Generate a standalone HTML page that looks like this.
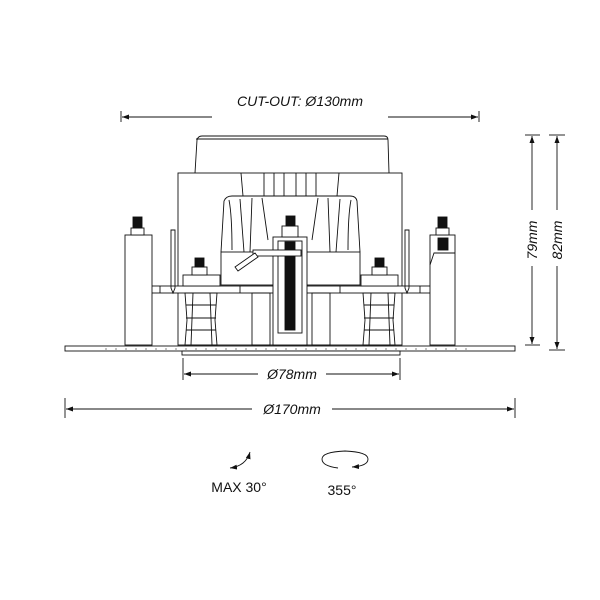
<!DOCTYPE html>
<html><head><meta charset="utf-8"><style>body{margin:0;background:#fff}svg{display:block}text{font-family:"Liberation Sans",sans-serif;fill:#111}</style></head>
<body>
<svg width="600" height="600" viewBox="0 0 600 600" xmlns="http://www.w3.org/2000/svg">
<defs>
<marker id="a" markerWidth="7" markerHeight="5" refX="7" refY="2.5" orient="auto" markerUnits="userSpaceOnUse"><path d="M0,0 L7,2.5 L0,5 Z" fill="#111"/></marker>
<marker id="b" markerWidth="7" markerHeight="5" refX="0" refY="2.5" orient="auto" markerUnits="userSpaceOnUse"><path d="M7,0 L0,2.5 L7,5 Z" fill="#111"/></marker>
</defs>
<g stroke="#111" stroke-width="0.9" fill="none">
<line x1="122" y1="117" x2="212" y2="117" marker-start="url(#b)"/>
<line x1="388" y1="117" x2="478" y2="117" marker-end="url(#a)"/>
<line x1="121" y1="111" x2="121" y2="122"/><line x1="479" y1="111" x2="479" y2="122"/>
<line x1="183" y1="358" x2="183" y2="380"/><line x1="400" y1="358" x2="400" y2="380"/>
<line x1="184" y1="374" x2="258" y2="374" marker-start="url(#b)"/>
<line x1="326" y1="374" x2="399" y2="374" marker-end="url(#a)"/>
<line x1="65" y1="398" x2="65" y2="418"/><line x1="515" y1="398" x2="515" y2="418"/>
<line x1="66" y1="409" x2="252" y2="409" marker-start="url(#b)"/>
<line x1="332" y1="409" x2="514" y2="409" marker-end="url(#a)"/>
<line x1="525" y1="135" x2="540" y2="135"/><line x1="525" y1="345" x2="540" y2="345"/>
<line x1="532" y1="136" x2="532" y2="210" marker-start="url(#b)"/>
<line x1="532" y1="266" x2="532" y2="344" marker-end="url(#a)"/>
<line x1="549" y1="135" x2="565" y2="135"/><line x1="549" y1="350" x2="565" y2="350"/>
<line x1="557" y1="136" x2="557" y2="210" marker-start="url(#b)"/>
<line x1="557" y1="266" x2="557" y2="349" marker-end="url(#a)"/>
<path d="M195,173 L197,140 Q198,136 202,136 L384,136 Q388,136 388,140 L389,173"/>
<line x1="196" y1="139" x2="388" y2="139"/>
<rect x="178" y="173" width="224" height="172"/>
<path d="M241,173 L243,196 M339,173 L337,196 M264,173 V196 M274,173 V196 M284,173 V196 M296,173 V196 M306,173 V196 M316,173 V196"/>
<path d="M221,252 L224,201 Q226,196 232,196 L350,196 Q356,196 357,201 L360,252" fill="#fff"/>
<path d="M229,200 Q232,215 232,250 M351,200 Q348,215 348,250 M240,199 L244,252 M252,198 L250,252 M262,198 L268,240 M318,198 L312,240 M328,198 L330,252 M340,199 L336,252"/>
<rect x="221" y="252" width="139" height="33" fill="#fff"/>
<rect x="128" y="286" width="325" height="7" fill="#fff"/>
<path d="M240,286 V293 M340,286 V293 M160,286 V293 M420,286 V293"/>
<rect x="128" y="283" width="10" height="13" fill="#fff"/>
<rect x="252" y="293" width="18" height="52"/><rect x="312" y="293" width="18" height="52"/>
<rect x="125" y="235" width="27" height="110" fill="#fff"/>
<rect x="131" y="228" width="13" height="7" fill="#fff"/><rect x="133" y="217" width="9" height="11" fill="#111"/>
<rect x="430" y="235" width="25" height="110" fill="#fff"/>
<rect x="436" y="228" width="13" height="7" fill="#fff"/><rect x="438" y="217" width="9" height="11" fill="#111"/>
<rect x="438" y="238" width="10" height="12" fill="#111"/>
<path d="M430,265 L434,253 H455"/>
<path d="M171,230 V288 L173,293 L175,288 V230 Z M405,230 V288 L407,293 L409,288 V230 Z"/>
<rect x="183" y="275" width="37" height="11" fill="#fff"/>
<path d="M185,293 H217 L215,320 L217,345 H185 L187,320 Z" fill="#fff"/>
<path d="M186,305 H216 M186,318 H216 M186,330 H216 M193,293 L191,345 M210,293 L212,345"/>
<rect x="192" y="267" width="15" height="8" fill="#fff"/><rect x="195" y="258" width="9" height="9" fill="#111"/>
<rect x="361" y="275" width="37" height="11" fill="#fff"/>
<path d="M363,293 H395 L393,320 L395,345 H363 L365,320 Z" fill="#fff"/>
<path d="M364,305 H394 M364,318 H394 M364,330 H394 M371,293 L369,345 M388,293 L390,345"/>
<rect x="372" y="267" width="15" height="8" fill="#fff"/><rect x="375" y="258" width="9" height="9" fill="#111"/>
<rect x="273" y="237" width="34" height="108" fill="#fff"/>
<rect x="278" y="241" width="24" height="92"/>
<rect x="285" y="242" width="10" height="88" fill="#111"/>
<rect x="282" y="226" width="16" height="11" fill="#fff"/><rect x="286" y="216" width="9" height="10" fill="#111"/>
<rect x="253" y="250" width="48" height="6" fill="#fff"/>
<path d="M235,267 L255,253 L258,257 L238,271 Z" fill="#fff"/>
<rect x="65" y="346" width="450" height="5" fill="#fff"/>
<line x1="105" y1="349" x2="475" y2="349" stroke-dasharray="2,8" stroke-width="0.6"/>
<rect x="182" y="351" width="218" height="4" fill="#fff"/>
<path d="M250,452 Q246,466 230,468" marker-start="url(#b)" marker-end="url(#a)"/>
<path d="M338,468 Q322,466 322,459 Q322,452 345,451 Q368,452 368,459 Q368,466 352,467" marker-end="url(#a)"/>
</g>
<text x="300" y="106" font-size="14" font-style="italic" text-anchor="middle">CUT-OUT: Ø130mm</text>
<text x="292" y="379" font-size="14" font-style="italic" text-anchor="middle">Ø78mm</text>
<text x="292" y="414" font-size="14" font-style="italic" text-anchor="middle">Ø170mm</text>
<text transform="translate(537,240) rotate(-90)" font-size="14" font-style="italic" text-anchor="middle">79mm</text>
<text transform="translate(562,240) rotate(-90)" font-size="14" font-style="italic" text-anchor="middle">82mm</text>
<text x="239" y="492" font-size="14" text-anchor="middle">MAX 30°</text>
<text x="342" y="495" font-size="14" text-anchor="middle">355°</text>
</svg>
</body></html>
